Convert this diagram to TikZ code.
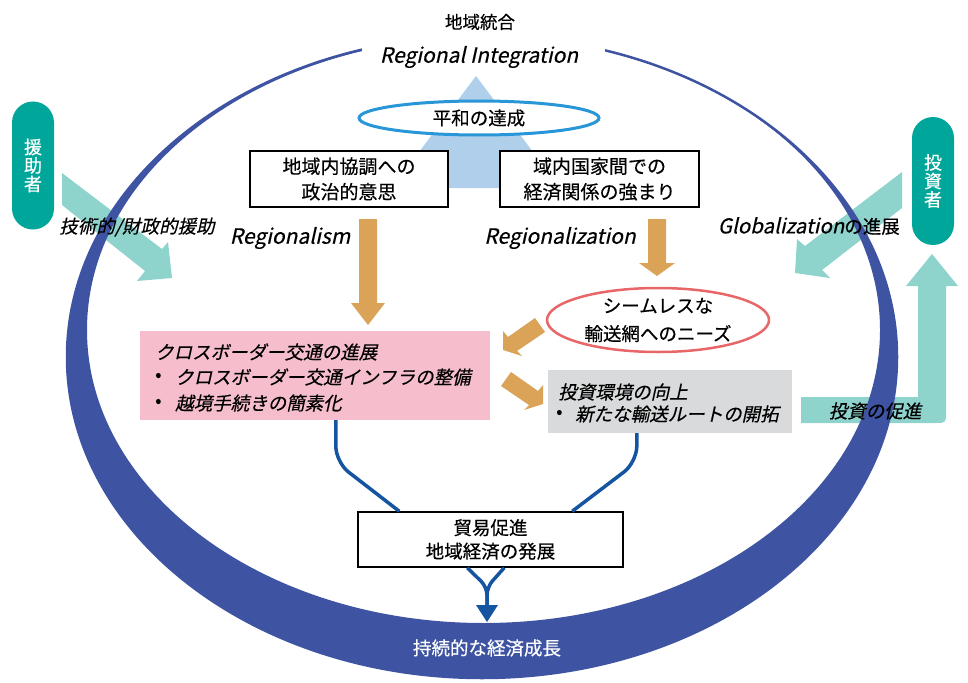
\documentclass[tikz,border=0pt]{standalone}
\usepackage{fontspec}
\setmainfont{Noto Sans CJK JP}[FakeBold=0.4]
\newfontfamily\jpit{Noto Sans CJK JP}[FakeSlant=0.22,FakeBold=0.4]
\usetikzlibrary{calc,shapes.geometric}
\definecolor{band}{RGB}{62,84,162}
\definecolor{conn}{RGB}{20,84,160}
\definecolor{tri}{RGB}{175,207,235}
\definecolor{peace}{RGB}{40,150,215}
\definecolor{need}{RGB}{232,102,104}
\definecolor{pinkbg}{RGB}{246,190,205}
\definecolor{graybg}{RGB}{217,218,220}
\definecolor{pill}{RGB}{0,166,153}
\definecolor{lteal}{RGB}{142,212,205}
\definecolor{orng}{RGB}{218,163,88}
\begin{document}
\begin{tikzpicture}[x=1pt,y=-1pt,
  txt/.style={font=\fontsize{18.5}{25}\selectfont, inner sep=0pt, align=center},
  ittxt/.style={font=\fontsize{18.5}{25}\jpit, inner sep=0pt},
  latit/.style={font=\fontsize{21}{24}\jpit, inner sep=0pt},
  wbox/.style={draw=black, line width=1.5pt, fill=white, inner sep=0pt, align=center,
    font=\fontsize{19}{25.5}\selectfont},
  pillbox/.style={fill=pill, rounded corners=21pt, minimum width=42pt, minimum height=128pt, inner sep=0pt},
  pilltxt/.style={text=white, align=center, inner sep=0pt, font=\fontsize{18}{18.5}\selectfont},
  conline/.style={draw=conn, line width=3.5pt},
]
\useasboundingbox (0,0) rectangle (968,682);

% light teal block arrows (behind ring)
\fill[lteal] (62,173) -- (162,249) -- (168,242) -- (172,278) -- (137,281) -- (145,271) -- (62,205) -- cycle;
\fill[lteal] (902,172) -- (805,246) -- (797,239) -- (795,273) -- (830,278) -- (822,270) -- (902,208) -- cycle;
\fill[lteal] (801,397) -- (918,397) -- (918,286) -- (906,286) -- (932,254) -- (958,286) -- (946,286)
  -- (946,411) .. controls (946,423) .. (934,423) -- (801,423) -- cycle;

% ring
\fill[band, even odd rule] (482,357) ellipse [x radius=415pt, y radius=321pt]
  (483.5,330) ellipse [x radius=396.5pt, y radius=293pt];
\draw[band, line width=2.5pt] (482,357) ellipse [x radius=415pt, y radius=321pt];
\fill[white] (362,26) rectangle (605,74);

% triangle
\fill[tri] (476,76) -- (560,188) -- (392,188) -- cycle;

% top labels
\node[font=\fontsize{17.5}{20}\selectfont, inner sep=0pt] (ttl) at (480,22) {地域統合};
\node[latit] (ttle) at (479,57) {Regional Integration};

% peace ellipse
\node[ellipse, draw=peace, line width=3pt, fill=white, minimum width=240pt, minimum height=34pt,
  inner sep=0pt, font=\fontsize{18.5}{22}\selectfont] (peace) at (479,118) {平和の達成};

% upper boxes
\node[wbox, minimum width=198pt, minimum height=56pt] (pol) at (349,179) {地域内協調への\\政治的意思};
\node[wbox, minimum width=199pt, minimum height=56pt] (eco) at (599.5,179) {域内国家間での\\経済関係の強まり};

% Regionalism labels
\node[latit] (rgm) at (290,238) {Regionalism};
\node[latit] (rgz) at (560,238) {Regionalization};

% orange arrows
\fill[orng] (359,219) -- (377,219) -- (377,303) -- (385,303) -- (368,325) -- (351,303) -- (359,303) -- cycle;
\fill[orng] (648,219) -- (666,219) -- (666,263) -- (675,263) -- (657,276) -- (639,263) -- (648,263) -- cycle;
\fill[orng] (535,318) -- (508,337) -- (503,331) -- (503,350) -- (522,356) -- (517,351) -- (545,332) -- cycle;
\fill[orng] (511,372) -- (538,391) -- (543,385) -- (543,404) -- (524,410) -- (529,405) -- (501,386) -- cycle;

% needs ellipse
\node[ellipse, draw=need, line width=2.5pt, fill=white, minimum width=222pt, minimum height=64pt,
  inner sep=0pt, align=center, font=\fontsize{18.5}{28}\selectfont] (need) at (658,320) {シームレスな\\輸送網へのニーズ};

% pink box
\node[fill=pinkbg, minimum width=350pt, minimum height=89pt, inner sep=0pt] (pink) at (315,375.5) {};
\node[ittxt, anchor=west] (p1) at (155,352) {クロスボーダー交通の進展};
\node[txt, anchor=west] (p2b) at (155,377) {•};
\node[ittxt, anchor=west] (p2) at (175,377) {クロスボーダー交通インフラの整備};
\node[txt, anchor=west] (p3b) at (155,403) {•};
\node[ittxt, anchor=west] (p3) at (175,403) {越境手続きの簡素化};

% gray box
\node[fill=graybg, minimum width=244pt, minimum height=63pt, inner sep=0pt] (gray) at (670,401.5) {};
\node[ittxt, anchor=west] (g1) at (558,392) {投資環境の向上};
\node[txt, anchor=west] (g2b) at (556,414) {•};
\node[ittxt, anchor=west] (g2) at (575,414) {新たな輸送ルートの開拓};

% bottom box
\node[wbox, minimum width=265pt, minimum height=55pt, font=\fontsize{18.5}{23.5}\selectfont] (trade) at (490.5,539.5) {貿易促進\\地域経済の発展};

% connectors
\draw[conline, rounded corners=16pt] ($(pink.south west)+(196,0)$) -- ($(pink.south west)+(196,42)$) -- ($(trade.north west)+(42,0)$);
\draw[conline, rounded corners=16pt] ($(gray.south west)+(89,0)$) -- ($(gray.south west)+(89,29)$) -- ($(trade.north west)+(215,0)$);
\coordinate (merge) at (487,587);
\coordinate (headbase) at (487,607);
\draw[conline, rounded corners=8pt] ($(trade.south west)+(110,0)$) -- (merge) -- (headbase);
\draw[conline, rounded corners=8pt] ($(trade.south west)+(147,0)$) -- (merge) -- (headbase);
\fill[conn] (476,605) -- (498,605) -- (487,622) -- cycle;

% bottom label
\node[txt, text=white] (sus) at (487,648) {持続的な経済成長};

% pills
\node[pillbox] (aid) at (33,165.5) {};
\node[pilltxt] (aidt) at (aid) {援\\助\\者};
\node[pillbox] (inv) at (933,181) {};
\node[pilltxt] (invt) at (inv) {投\\資\\者};

% side labels
\node[ittxt] (tech) at (137,227) {技術的/財政的援助};
\node[inner sep=0pt, font=\fontsize{18.5}{22}\selectfont, anchor=east] (glob) at (900,226) {{\fontsize{20.5}{22}\jpit Globalization}の進展};
\node[ittxt] (prom) at (875,411) {投資の促進};
\end{tikzpicture}
\end{document}
